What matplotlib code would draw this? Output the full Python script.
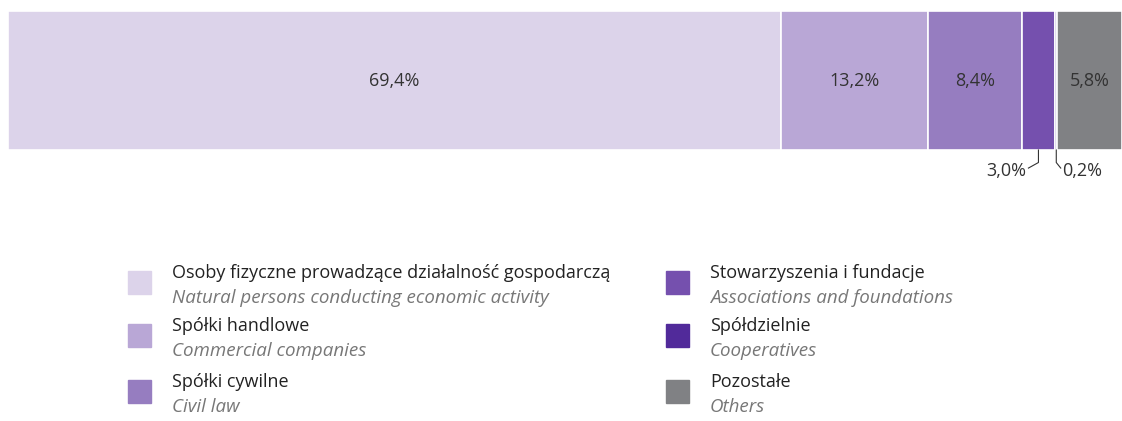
import matplotlib.pyplot as plt
from matplotlib.patches import Rectangle

plt.rcParams['font.family'] = ['Open Sans', 'DejaVu Sans']

shares = [69.4, 13.2, 8.4, 3.0, 0.2, 5.8]
labels = ["69,4%", "13,2%", "8,4%", "3,0%", "0,2%", "5,8%"]
names_pl = ["Osoby fizyczne prowadzące działalność gospodarczą", "Spółki handlowe",
            "Spółki cywilne", "Stowarzyszenia i fundacje", "Spółdzielnie", "Pozostałe"]
names_en = ["Natural persons conducting economic activity", "Commercial companies",
            "Civil law", "Associations and foundations", "Cooperatives", "Others"]
colors = ["#dcd3ea", "#b9a7d6", "#967dc0", "#7550ae", "#512a9a", "#808184"]

W, H = 1122, 421
fig = plt.figure(figsize=(W / 100, H / 100), dpi=100)

# bar axes
ax = fig.add_axes([8 / W, (H - 150) / H, 1114 / W, 139 / H])
ax.set_xlim(0, 100)
ax.set_ylim(0, 1)
ax.axis("off")

left = 0
for i, (v, c) in enumerate(zip(shares, colors)):
    ax.barh(0.5, v, left=left, height=1, color=c, edgecolor="white", linewidth=1.2)
    if v > 5:
        ax.text(left + v / 2, 0.5, labels[i], ha="center", va="center",
                fontsize=13, color="#333333")
    left += v

# small segments: labels below with leader lines
x3 = sum(shares[:3]) + shares[3] / 2
x02 = sum(shares[:4]) + shares[4] / 2
ax.plot([x3, x3, x3 - 0.9], [0, -0.09, -0.13], color="#333333", lw=0.8, clip_on=False)
ax.text(x3 - 1.1, -0.15, labels[3], ha="right", va="center", fontsize=13, color="#333333")
ax.plot([x02, x02, x02 + 0.4], [0, -0.09, -0.13], color="#333333", lw=0.8, clip_on=False)
ax.text(x02 + 0.5, -0.15, labels[4], ha="left", va="center", fontsize=13, color="#333333")

# legend drawn by hand
cols_x = [128, 666]
rows_y = [271, 324, 380]
for i in range(6):
    cx = cols_x[i // 3]
    ry = rows_y[i % 3]
    fig.patches.append(Rectangle((cx / W, 1 - (ry + 23) / H), 23 / W, 23 / H,
                                 transform=fig.transFigure, color=colors[i]))
    fig.text((cx + 44) / W, 1 - (ry + 2) / H, names_pl[i], fontsize=13,
             color="#222222", va="center")
    fig.text((cx + 44) / W, 1 - (ry + 27) / H, names_en[i], fontsize=13.5,
             color="#777777", style="italic", va="center")

fig.savefig("out.png", dpi=100)
